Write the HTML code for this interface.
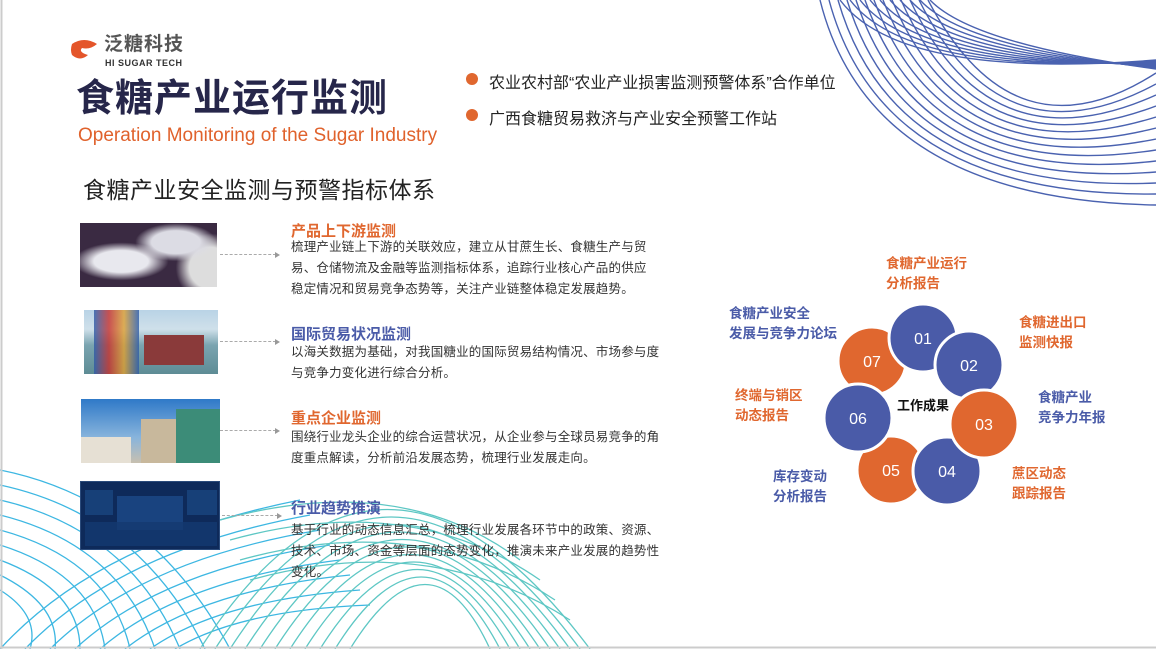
<!DOCTYPE html>
<html><head><meta charset="utf-8"><style>
body{margin:0;width:1156px;height:649px;overflow:hidden;background:#fff;font-family:"Liberation Sans","Noto Sans CJK SC",sans-serif;}
#p{position:absolute;left:0;top:0;width:1156px;height:649px;}
.a{position:absolute;white-space:nowrap;}
.h{font-size:15px;font-weight:bold;}
.b{font-size:12.5px;color:#333;line-height:21px;letter-spacing:0.2px;}
.o{color:#e0672f}.bl{color:#4a5ba8}
.lab{font-size:13.5px;font-weight:bold;line-height:20px;}
.img{position:absolute;overflow:hidden;}
.dash{position:absolute;height:0;border-top:1px dashed #aaa;width:56px;}
.dash:after{content:"";position:absolute;right:-4px;top:-3.5px;border-left:5px solid #999;border-top:3px solid transparent;border-bottom:3px solid transparent;}
</style></head><body>
<svg id="p" width="1156" height="649" xmlns="http://www.w3.org/2000/svg">
<rect x="0" y="0" width="1156" height="649" fill="#fff"/>
<g fill="none" stroke="#4a62b0" stroke-width="1.4">
<path d="M820 0 Q870 200 1156 205"/><path d="M829 0 Q882 197 1156 194"/><path d="M838 0 Q894 194 1156 183"/><path d="M847 0 Q906 191 1156 172"/><path d="M856 0 Q918 188 1156 161"/><path d="M865 0 Q930 185 1156 150"/><path d="M874 0 Q942 182 1156 139"/><path d="M883 0 Q954 179 1156 128"/><path d="M892 0 Q966 176 1156 117"/><path d="M901 0 Q978 173 1156 106"/><path d="M910 0 Q990 170 1156 95"/><path d="M919 0 Q1002 167 1156 84"/><path d="M928 0 Q1014 164 1156 73"/>
<path d="M840 0 Q900 80 1156 60"/><path d="M850 0 Q908 76 1156 61"/><path d="M860 0 Q916 72 1156 62"/><path d="M870 0 Q924 68 1156 63"/><path d="M880 0 Q932 64 1156 64"/><path d="M890 0 Q940 60 1156 65"/><path d="M900 0 Q948 56 1156 66"/><path d="M910 0 Q956 52 1156 67"/><path d="M920 0 Q964 48 1156 68"/><path d="M930 0 Q972 44 1156 69"/>
</g>
<g fill="none" stroke="#3db7e2" stroke-width="1.3">
<path d="M0 470 Q150 500 230 649"/><path d="M0 485 Q140 515 205 649"/><path d="M0 500 Q130 530 180 649"/><path d="M0 515 Q120 545 155 649"/><path d="M0 530 Q110 560 130 649"/><path d="M0 545 Q95 575 105 649"/><path d="M0 560 Q80 590 80 649"/><path d="M0 575 Q60 605 55 649"/><path d="M0 590 Q40 615 30 649"/>
<path d="M0 649 Q100 540 300 500"/><path d="M25 649 Q120 550 310 515"/><path d="M50 649 Q140 560 320 530"/><path d="M75 649 Q160 570 330 545"/><path d="M100 649 Q180 580 340 560"/><path d="M125 649 Q200 590 350 575"/><path d="M150 649 Q220 600 360 590"/><path d="M175 649 Q240 610 370 605"/>
</g>
<g fill="none" stroke="#5ec7c4" stroke-width="1.3">
<path d="M200 649 Q380 370 590 649"/><path d="M215 649 Q385 385 580 649"/><path d="M230 649 Q390 400 570 649"/><path d="M245 649 Q395 415 560 649"/><path d="M260 649 Q400 430 550 649"/><path d="M275 649 Q405 445 540 649"/><path d="M290 649 Q410 460 530 649"/><path d="M305 649 Q415 475 520 649"/><path d="M320 649 Q420 490 510 649"/><path d="M335 649 Q425 505 500 649"/><path d="M350 649 Q430 520 490 649"/>
<path d="M220 520 Q400 470 520 560"/><path d="M230 540 Q410 490 540 580"/><path d="M240 560 Q420 510 555 600"/><path d="M250 580 Q430 530 570 620"/>
</g>
<line x1="1.5" y1="0" x2="1.5" y2="649" stroke="#ccc" stroke-width="2"/>
<line x1="0" y1="647.5" x2="1156" y2="647.5" stroke="#ccc" stroke-width="2"/>
<path d="M72 44 Q84 36 97 44 Q90 50 82 48 Q78 52 88 55 Q80 62 72 55 Q70 50 72 44Z" fill="#e4552a"/>
<circle cx="472" cy="79" r="6" fill="#e0672f"/><circle cx="472" cy="115" r="6" fill="#e0672f"/>
<g stroke="#fff" stroke-width="3">
<circle cx="872" cy="361" r="34" fill="#e0672f"/>
<circle cx="891" cy="470" r="34" fill="#e0672f"/>
<circle cx="858" cy="418" r="34" fill="#4a5ba8"/>
<circle cx="923" cy="338" r="34" fill="#4a5ba8"/>
<circle cx="969" cy="365" r="34" fill="#4a5ba8"/>
<circle cx="947" cy="471" r="34" fill="#4a5ba8"/>
<circle cx="984" cy="424" r="34" fill="#e0672f"/>
</g>
<g fill="#fff" font-size="16" font-family="Liberation Sans,sans-serif" text-anchor="middle">
<text x="923" y="344">01</text><text x="969" y="371">02</text><text x="984" y="430">03</text><text x="947" y="477">04</text><text x="891" y="476">05</text><text x="858" y="424">06</text><text x="872" y="367">07</text>
</g>
<text x="923" y="410" font-size="13" font-weight="bold" text-anchor="middle" fill="#111" font-family="Liberation Sans,Noto Sans CJK SC,sans-serif">工作成果</text>
</svg>

<div class="a" style="left:104px;top:33px;font-size:19px;line-height:24px;color:#555;font-weight:bold;letter-spacing:1px;">泛糖科技</div>
<div class="a" style="left:105px;top:58px;font-size:9px;line-height:10px;color:#333;font-weight:bold;letter-spacing:0.5px;">HI SUGAR TECH</div>
<div class="a" style="left:76px;top:74px;font-size:38px;line-height:50px;color:#26264a;font-weight:bold;letter-spacing:1px;">食糖产业运行监测</div>
<div class="a" style="left:78px;top:124px;font-size:19px;line-height:24px;color:#e0622c;">Operation Monitoring of the Sugar Industry</div>
<div class="a" style="left:83px;top:171px;font-size:23px;color:#222;letter-spacing:0.5px;">食糖产业安全监测与预警指标体系</div>
<div class="a" style="left:489px;top:69px;font-size:16px;color:#222;">农业农村部“农业产业损害监测预警体系”合作单位</div>
<div class="a" style="left:489px;top:105px;font-size:16px;color:#222;">广西食糖贸易救济与产业安全预警工作站</div>

<div class="img" style="left:80px;top:223px;width:137px;height:64px;background:radial-gradient(ellipse at 30% 60%,#e8e8ee 0 20%,transparent 35%),radial-gradient(ellipse at 70% 30%,#dcdce4 0 18%,transparent 30%),radial-gradient(circle at 95% 70%,#ddd 0 15%,transparent 25%),#3a2a42;"></div>
<div class="img" style="left:84px;top:310px;width:134px;height:64px;background:linear-gradient(180deg,#b9d3e6 0%,#cfe0ea 30%,#7aa4b0 55%,#5e8c95 100%);"><div style="position:absolute;left:10px;top:0;width:45px;height:64px;background:linear-gradient(90deg,#2c5aa8,#c9302c,#e0a030,#2c5aa8);opacity:.8"></div><div style="position:absolute;left:60px;top:25px;width:60px;height:30px;background:#8a3a3a;"></div></div>
<div class="img" style="left:81px;top:399px;width:139px;height:64px;background:linear-gradient(180deg,#2f79c8,#88b4dc 60%,#c8c0b0);"><div style="position:absolute;left:0;top:38px;width:50px;height:26px;background:#e6e0d4"></div><div style="position:absolute;left:60px;top:20px;width:35px;height:44px;background:#c8b89c"></div><div style="position:absolute;left:95px;top:10px;width:44px;height:54px;background:#3c8c78"></div></div>
<div class="img" style="left:80px;top:481px;width:140px;height:69px;background:#0e2a5a;border:1px solid #2a4a7a;box-sizing:border-box;"><div style="position:absolute;left:36px;top:14px;width:66px;height:34px;background:#1d4a88;opacity:.8"></div><div style="position:absolute;left:4px;top:8px;width:28px;height:25px;background:#174078"></div><div style="position:absolute;left:106px;top:8px;width:30px;height:25px;background:#174078"></div><div style="position:absolute;left:4px;top:40px;width:132px;height:24px;background:#143a70;opacity:.8"></div></div>

<div class="dash" style="left:220px;top:254px;"></div>
<div class="dash" style="left:220px;top:341px;"></div>
<div class="dash" style="left:220px;top:430px;"></div>
<div class="dash" style="left:222px;top:515px;"></div>

<div class="a h o" style="left:291px;top:220px;">产品上下游监测</div>
<div class="a b" style="left:291px;top:237px;">梳理产业链上下游的关联效应，建立从甘蔗生长、食糖生产与贸<br>易、仓储物流及金融等监测指标体系，追踪行业核心产品的供应<br>稳定情况和贸易竞争态势等，关注产业链整体稳定发展趋势。</div>
<div class="a h bl" style="left:291px;top:323px;">国际贸易状况监测</div>
<div class="a b" style="left:291px;top:342px;">以海关数据为基础，对我国糖业的国际贸易结构情况、市场参与度<br>与竞争力变化进行综合分析。</div>
<div class="a h o" style="left:291px;top:407px;">重点企业监测</div>
<div class="a b" style="left:291px;top:427px;">围绕行业龙头企业的综合运营状况，从企业参与全球员易竞争的角<br>度重点解读，分析前沿发展态势，梳理行业发展走向。</div>
<div class="a h bl" style="left:291px;top:497px;">行业趋势推演</div>
<div class="a b" style="left:291px;top:520px;">基于行业的动态信息汇总，梳理行业发展各环节中的政策、资源、<br>技术、市场、资金等层面的态势变化，推演未来产业发展的趋势性<br>变化。</div>

<div class="a lab o" style="left:886px;top:254px;">食糖产业运行<br>分析报告</div>
<div class="a lab bl" style="left:729px;top:304px;">食糖产业安全<br>发展与竞争力论坛</div>
<div class="a lab o" style="left:1019px;top:313px;">食糖进出口<br>监测快报</div>
<div class="a lab bl" style="left:1038px;top:388px;">食糖产业<br>竞争力年报</div>
<div class="a lab o" style="left:1012px;top:464px;">蔗区动态<br>跟踪报告</div>
<div class="a lab bl" style="left:773px;top:467px;">库存变动<br>分析报告</div>
<div class="a lab o" style="left:735px;top:386px;">终端与销区<br>动态报告</div>
</body></html>
